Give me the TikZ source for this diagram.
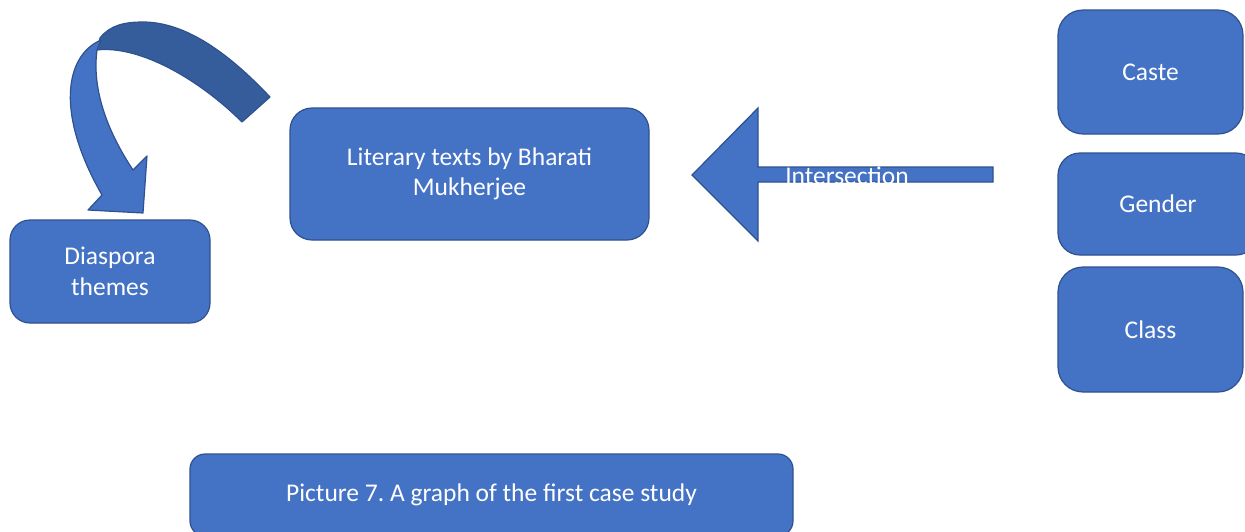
\documentclass[tikz,border=0pt]{standalone}
\usepackage{fontspec}
\setmainfont{Carlito}
\frenchspacing
\definecolor{boxfill}{HTML}{4472C4}
\definecolor{boxedge}{HTML}{2F528F}
\definecolor{backface}{HTML}{365D9B}
\tikzset{
  card/.style={draw=boxedge, line width=1.2pt, fill=boxfill, text=white,
    rounded corners=#1, align=center, inner sep=0pt,
    font=\fontsize{25.5}{30.5}\selectfont},
  card/.default=22pt,
  band/.style={draw=boxedge, line width=1.2pt, line join=round},
}
\begin{document}
\begin{tikzpicture}[x=1pt,y=-1pt]
\useasboundingbox (0,0) rectangle (1245,531);

% boxes
\node[card=20pt, minimum width=200pt, minimum height=103pt] (diaspora) at (110,271.5) {Diaspora\\themes};
\node[card, minimum width=359pt, minimum height=132pt] (texts) at (469.5,174) {Literary texts by Bharati\\Mukherjee};
\node[card=25pt, minimum width=185pt, minimum height=124pt] (caste) at (1150.5,72) {Caste};
\node[card=22pt, minimum width=200pt, minimum height=102pt] (gender) at (1158,204) {Gender};
\node[card=25pt, minimum width=185pt, minimum height=125pt] (class) at (1150.5,329.5) {Class};
\node[card=15pt, minimum width=603pt, minimum height=82pt] (caption) at (491.5,495) {Picture 7. A graph of the first case study};

% curved arrow: back face of the band
\fill[backface, band] (100,38) .. controls (110,25) and (125,22) .. (143,22)
  .. controls (190,22) and (235,60) .. (270,97) -- (242,122)
  .. controls (200,80) and (140,45) .. (97,50) -- cycle;
% curved arrow: front face with head pointing at the diaspora box
\fill[boxfill, band] (101,40) .. controls (64,56) and (56,115) .. (102,195)
  -- (88,210) -- (143,213) -- (147,156) -- (133,170)
  .. controls (100,120) and (93,80) .. (97,50) -- cycle;

% block arrow from the categories to the texts
\fill[boxfill, band, line join=miter] (692,175) -- (758,108) -- (758,167) -- (993,167)
  -- (993,182) -- (758,182) -- (758,241) -- cycle;
\node[text=white, font=\fontsize{25.5}{30.5}\selectfont, inner sep=0pt] (inter) at (847,176) {Intersection};
\end{tikzpicture}
\end{document}
